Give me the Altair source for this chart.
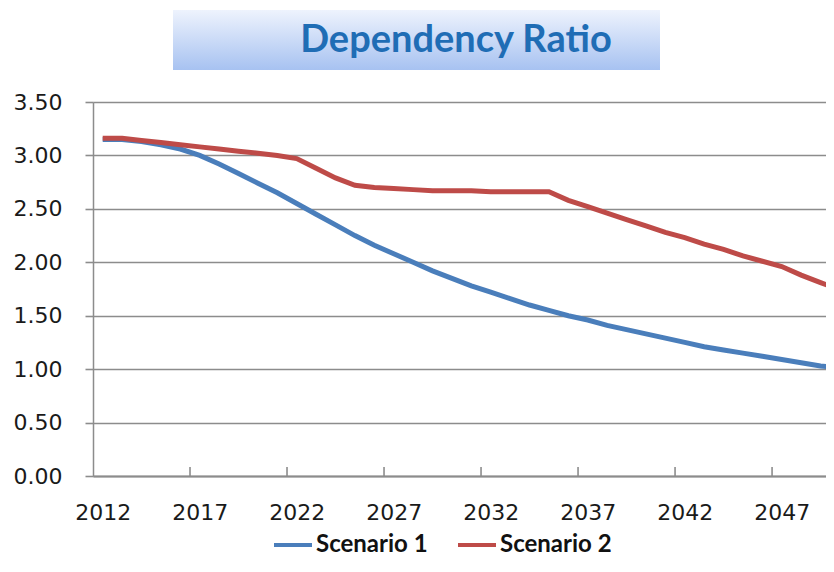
import altair as alt
import pandas as pd

# ---------------- data ----------------
years = list(range(2012, 2051))
scenario_1 = [3.15, 3.15, 3.13, 3.10, 3.06, 3.00, 2.92, 2.83, 2.74, 2.65,
              2.55, 2.45, 2.35, 2.25, 2.16, 2.08, 2.00, 1.92, 1.85, 1.78,
              1.72, 1.66, 1.60, 1.55, 1.50, 1.46, 1.41, 1.37, 1.33, 1.29,
              1.25, 1.21, 1.18, 1.15, 1.12, 1.09, 1.06, 1.03, 1.01]
scenario_2 = [3.16, 3.16, 3.14, 3.12, 3.10, 3.08, 3.06, 3.04, 3.02, 3.00,
              2.97, 2.88, 2.79, 2.72, 2.70, 2.69, 2.68, 2.67, 2.67, 2.67,
              2.66, 2.66, 2.66, 2.66, 2.58, 2.52, 2.46, 2.40, 2.34, 2.28,
              2.23, 2.17, 2.12, 2.06, 2.01, 1.96, 1.88, 1.81, 1.74]
series_names = ["Scenario 1", "Scenario 2"]
series_colors = ["#4a7ebb", "#be4b48"]
y_ticks = [0.0, 0.5, 1.0, 1.5, 2.0, 2.5, 3.0, 3.5]
x_label_years = [2012, 2017, 2022, 2027, 2032, 2037, 2042, 2047]
tick_bounds = [2016.5, 2021.5, 2026.5, 2031.5, 2036.5, 2041.5, 2046.5]
title_text = ["Dependency Ratio"]

df = pd.DataFrame({
    "Year": years + years,
    "Ratio": scenario_1 + scenario_2,
    "Series": [series_names[0]] * len(years) + [series_names[1]] * len(years),
})
tick_df = pd.DataFrame({"Year": tick_bounds})
title_df = pd.DataFrame({"t": title_text})

W, H = 733, 374
GRID = "#8c8c8c"
x_scale = alt.Scale(domain=[2011.5, 2049.28], nice=False, zero=False)
y_scale = alt.Scale(domain=[0, 3.5], nice=False)

box = alt.Chart(title_df).mark_rect(
    color=alt.Gradient(
        gradient="linear",
        stops=[alt.GradientStop(color="#eef3fd", offset=0),
               alt.GradientStop(color="#a7c2f1", offset=1)],
        x1=0, x2=0, y1=0, y2=1,
    )
).encode(x=alt.value(80), x2=alt.value(567), y=alt.value(-92), y2=alt.value(-32))

title = alt.Chart(title_df).mark_text(
    font="Lato", fontWeight="bold", fontSize=38, color="#1f6db5",
    align="center", baseline="middle",
).encode(text="t:N", x=alt.value(363), y=alt.value(-61))

lines = alt.Chart(df).mark_line(strokeWidth=5, clip=True).encode(
    x=alt.X("Year:Q", scale=x_scale,
            axis=alt.Axis(values=x_label_years, format="d", ticks=False, grid=False,
                          domain=True, domainColor=GRID, domainWidth=2,
                          labelFont="DejaVu Sans", labelFontSize=22, labelColor="#1a1a1a",
                          labelPadding=26, labelFlush=False, labelOverlap=False, title=None)),
    y=alt.Y("Ratio:Q", scale=y_scale,
            axis=alt.Axis(values=y_ticks, format=".2f", grid=True, gridColor=GRID,
                          gridWidth=1.6, domain=True, domainColor=GRID, domainWidth=1.5,
                          ticks=True, tickSize=8, tickColor=GRID, tickWidth=1.6,
                          labelFont="DejaVu Sans", labelFontSize=22, labelColor="#1a1a1a",
                          labelPadding=23, title=None)),
    color=alt.Color("Series:N",
                    scale=alt.Scale(domain=series_names, range=series_colors),
                    legend=alt.Legend(orient="none", legendX=179, legendY=422,
                                      direction="horizontal", title=None,
                                      symbolType="stroke", symbolSize=1444,
                                      symbolStrokeWidth=4, labelFont="Lato",
                                      labelFontWeight="bold", labelFontSize=24,
                                      labelColor="#111111", labelOffset=2,
                                      columnPadding=22, padding=0)),
)

ticks = alt.Chart(tick_df).mark_rule(color=GRID, strokeWidth=1.6).encode(
    x=alt.X("Year:Q", scale=x_scale), y=alt.value(H - 9), y2=alt.value(H)
)

chart = alt.layer(box, title, lines, ticks).properties(
    width=W, height=H,
    autosize=alt.AutoSizeParams(type="none"),
    padding={"left": 85, "top": 94, "right": 0, "bottom": 82},
).configure_view(stroke=None).configure(background="white")

chart.save("out.html", embed_options={"renderer": "svg", "actions": False})
